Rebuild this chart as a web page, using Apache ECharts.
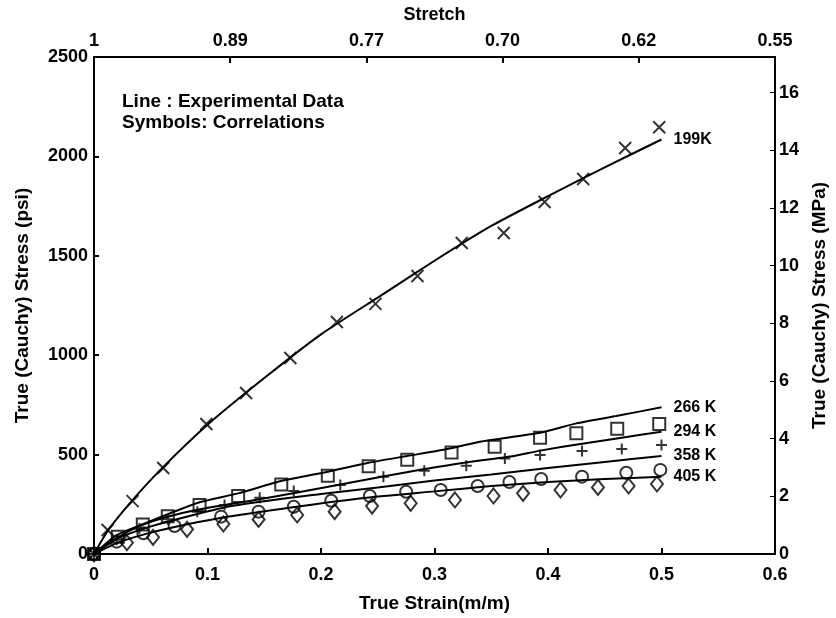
<!DOCTYPE html>
<html>
<head>
<meta charset="utf-8">
<script src="https://cdn.jsdelivr.net/npm/echarts@6/dist/echarts.min.js"></script>
<style>html,body{margin:0;padding:0;background:#fff}#c{width:836px;height:618px}</style>
</head>
<body>
<div id="c"></div>
<script>
// ---- data (strain in m/m, stress in psi) ----
var stretchTicks = ['1', '0.89', '0.77', '0.70', '0.62', '0.55'];
var seriesLabels = ['199K', '266 K', '294 K', '358 K', '405 K'];

// experimental lines
var line199Strain = [0, 0.0125, 0.033, 0.06, 0.1, 0.15, 0.2, 0.25, 0.3, 0.35, 0.4, 0.45, 0.5];
var line199Stress = [0, 120, 265, 432, 650, 885, 1105, 1290, 1475, 1650, 1800, 1945, 2085];
var line266Strain = [0, 0.02, 0.043, 0.065, 0.093, 0.127, 0.165, 0.206, 0.242, 0.276, 0.315, 0.34, 0.393, 0.425, 0.46, 0.5];
var line266Stress = [0, 95, 150, 200, 260, 305, 367, 414, 459, 493, 532, 565, 610, 657, 694, 738];
var line294Strain = [0, 0.02, 0.04, 0.06, 0.093, 0.146, 0.217, 0.29, 0.34, 0.367, 0.393, 0.43, 0.465, 0.5];
var line294Stress = [0, 80, 140, 180, 225, 275, 350, 426, 470, 490, 520, 555, 585, 615];
var line358Strain = [0, 0.02, 0.045, 0.07, 0.12, 0.2, 0.25, 0.3, 0.35, 0.4, 0.45, 0.5];
var line358Stress = [0, 75, 130, 170, 240, 302, 335, 370, 400, 432, 463, 493];
var line405Strain = [0, 0.02, 0.045, 0.07, 0.11, 0.175, 0.24, 0.3, 0.35, 0.4, 0.45, 0.5];
var line405Stress = [0, 55, 100, 135, 180, 235, 283, 315, 342, 362, 377, 389];

// correlation symbols
var sym199Strain = [0, 0.012, 0.034, 0.061, 0.099, 0.134, 0.173, 0.214, 0.248, 0.285, 0.324, 0.361, 0.397, 0.431, 0.468, 0.498];
var sym199Stress = [0, 121, 266, 433, 654, 810, 986, 1167, 1258, 1398, 1564, 1615, 1771, 1886, 2042, 2147];
var sym266Strain = [0, 0.021, 0.043, 0.065, 0.093, 0.127, 0.165, 0.206, 0.242, 0.276, 0.315, 0.353, 0.393, 0.425, 0.461, 0.498];
var sym266Stress = [0, 87, 149, 190, 246, 292, 350, 394, 441, 474, 511, 540, 585, 607, 630, 654];
var sym294Strain = [0, 0.02, 0.04, 0.065, 0.091, 0.115, 0.146, 0.176, 0.217, 0.255, 0.291, 0.328, 0.362, 0.393, 0.43, 0.465, 0.5];
var sym294Stress = [0, 72, 128, 175, 213, 246, 283, 317, 347, 389, 419, 444, 480, 498, 518, 528, 548];
var sym358Strain = [0, 0.02, 0.0435, 0.071, 0.112, 0.145, 0.176, 0.209, 0.243, 0.275, 0.3055, 0.338, 0.366, 0.394, 0.43, 0.469, 0.499];
var sym358Stress = [0, 62, 104, 141, 188, 213, 238, 268, 292, 313, 322, 342, 362, 377, 389, 409, 423];
var sym405Strain = [0, 0.029, 0.052, 0.082, 0.114, 0.145, 0.179, 0.212, 0.245, 0.279, 0.318, 0.352, 0.378, 0.411, 0.444, 0.471, 0.496];
var sym405Stress = [0, 57, 84, 124, 151, 174, 196, 213, 241, 255, 272, 292, 305, 322, 335, 342, 352];

var PSI_PER_MPA = 145.038;

function zip(a, b) { return a.map(function (v, i) { return [v, b[i]]; }); }

var FONT = '"Liberation Sans", Arial, Helvetica, sans-serif';
var txt = { color: '#000', fontFamily: FONT, fontWeight: 'bold' };
function ts(size, extra) { var o = Object.assign({}, txt, { fontSize: size }); return Object.assign(o, extra || {}); }

var axisLine = { show: true, onZero: false, lineStyle: { color: '#000', width: 2 } };

function lineSeries(xs, ys, label) {
  return {
    type: 'line', data: zip(xs, ys), showSymbol: false, smooth: 0.2,
    lineStyle: { color: '#000', width: 2 }, z: 2, silent: true,
    endLabel: { show: true, formatter: label, distance: 12, color: '#000', fontFamily: FONT, fontWeight: 'bold', fontSize: 16 }
  };
}
function symSeries(xs, ys, symbol, size) {
  return {
    type: 'scatter', data: zip(xs, ys), symbol: symbol, symbolSize: size, z: 3, silent: true,
    itemStyle: { color: 'rgba(0,0,0,0)', borderColor: '#000', borderWidth: 2 }
  };
}

var chart = echarts.init(document.getElementById('c'), null, { renderer: 'canvas' });
chart.setOption({
  animation: false,
  backgroundColor: '#fff',
  grid: { left: 94, right: 61, top: 57, bottom: 64, containLabel: false, outerBoundsMode: 'none' },
  xAxis: [
    {
      type: 'value', position: 'bottom', min: 0, max: 0.6, interval: 0.1,
      name: 'True Strain(m/m)', nameLocation: 'middle', nameGap: 40, nameTextStyle: ts(19),
      axisLine: axisLine, axisTick: { show: true, inside: true, length: 6, lineStyle: { color: '#000', width: 2 } },
      axisLabel: ts(18, { margin: 12, formatter: function (v) { return String(Math.round(v * 10) / 10); } }), splitLine: { show: false }
    },
    {
      type: 'value', position: 'top', min: 0, max: 0.6, interval: 0.12,
      name: 'Stretch', nameLocation: 'middle', nameGap: 33, nameTextStyle: ts(18),
      axisLine: axisLine, axisTick: { show: true, inside: true, length: 6, lineStyle: { color: '#000', width: 2 } },
      axisLabel: ts(18, { margin: 7, formatter: function (v) { return stretchTicks[Math.round(v / 0.12)]; } }),
      splitLine: { show: false }
    }
  ],
  yAxis: [
    {
      type: 'value', position: 'left', min: 0, max: 2500, interval: 500,
      name: 'True (Cauchy) Stress (psi)', nameLocation: 'middle', nameGap: 62, nameTextStyle: ts(19),
      axisLine: axisLine, axisTick: { show: true, inside: true, length: 5, lineStyle: { color: '#000', width: 2 } },
      axisLabel: ts(18, { margin: 6, formatter: function (v) { return String(v); } }), splitLine: { show: false }
    },
    {
      type: 'value', position: 'right', min: 0, max: 2500 / PSI_PER_MPA, interval: 2,
      name: 'True (Cauchy) Stress (MPa)', nameLocation: 'middle', nameGap: 34, nameRotate: 90, nameTextStyle: ts(19),
      axisLine: axisLine, axisTick: { show: true, inside: true, length: 5, lineStyle: { color: '#000', width: 1 } },
      axisLabel: ts(18, { margin: 4, showMaxLabel: false, formatter: function (v) { return Math.abs(v - Math.round(v)) < 1e-6 ? String(Math.round(v)) : ''; } }),
      splitLine: { show: false }
    }
  ],
  graphic: [
    { type: 'text', left: 122, top: 92, style: { text: 'Line : Experimental Data', fill: '#000', font: 'bold 19px ' + FONT } },
    { type: 'text', left: 122, top: 113, style: { text: 'Symbols: Correlations', fill: '#000', font: 'bold 19px ' + FONT } }
  ],
  series: [
    lineSeries(line199Strain, line199Stress, seriesLabels[0]),
    lineSeries(line266Strain, line266Stress, seriesLabels[1]),
    lineSeries(line294Strain, line294Stress, seriesLabels[2]),
    lineSeries(line358Strain, line358Stress, seriesLabels[3]),
    lineSeries(line405Strain, line405Stress, seriesLabels[4]),
    symSeries(sym199Strain, sym199Stress, 'path://M0,0L10,10M10,0L0,10', 12),
    symSeries(sym266Strain, sym266Stress, 'rect', 12),
    symSeries(sym294Strain, sym294Stress, 'path://M5,0L5,10M0,5L10,5', 11),
    symSeries(sym358Strain, sym358Stress, 'circle', 12),
    symSeries(sym405Strain, sym405Stress, 'diamond', [12, 15])
  ]
});
</script>
</body>
</html>
